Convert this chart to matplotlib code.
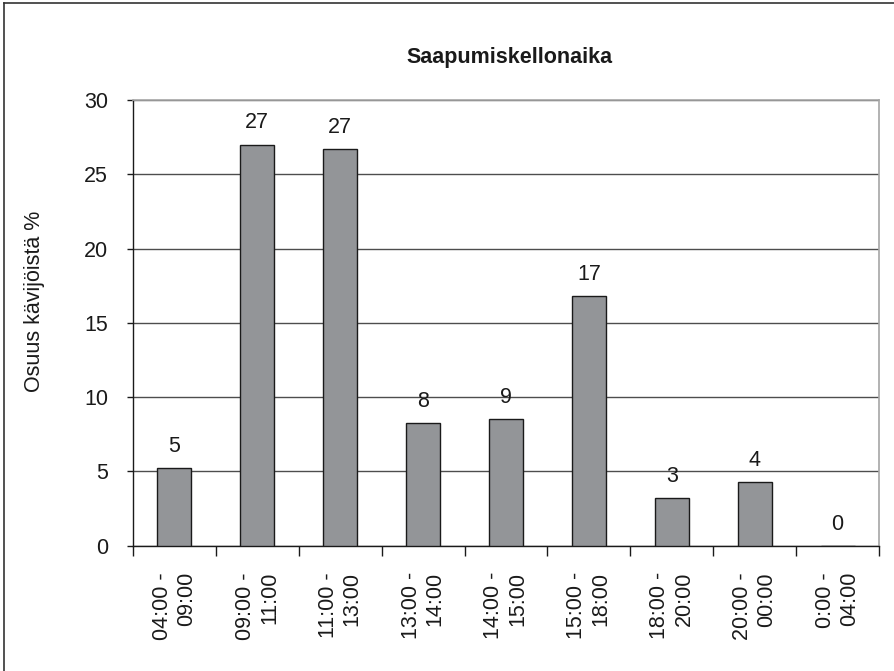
import numpy as np
import matplotlib.pyplot as plt
from matplotlib.lines import Line2D

plt.rcParams['font.family'] = ['Liberation Sans', 'DejaVu Sans']

# data
categories = ["04:00 -\n09:00", "09:00 -\n11:00", "11:00 -\n13:00",
              "13:00 -\n14:00", "14:00 -\n15:00", "15:00 -\n18:00",
              "18:00 -\n20:00", "20:00 -\n00:00", "0:00 -\n04:00"]
shares = [5.25, 27.0, 26.7, 8.25, 8.5, 16.8, 3.2, 4.3, 0.0]

fig = plt.figure(figsize=(8.94, 6.71), dpi=100)
ax = fig.add_axes([133/894, 1 - 545.7/671, 746/894, 445.7/671])

x = np.arange(len(categories))
bars = ax.bar(x, shares, width=0.41, color='#939598', edgecolor='#1a1a1a',
              linewidth=1.0, zorder=3)

for rect, v in zip(bars, shares):
    ax.annotate(str(int(v + 0.5)), (rect.get_x() + rect.get_width() / 2, v),
                xytext=(0, 8), textcoords='offset points',
                ha='center', va='bottom', fontsize=15.5, color='#1a1a1a')

ax.set_xlim(-0.5, len(categories) - 0.5)
ax.set_ylim(0, 30)
ax.set_yticks(np.arange(0, 31, 5))
ax.yaxis.grid(True, color='#4d4d4d', linewidth=1.0, zorder=0)

ax.set_xticks(x)
ax.set_xticklabels(categories, rotation=90, multialignment='right',
                   fontsize=15.5, color='#1a1a1a')
ax.tick_params(axis='x', which='major', length=0, pad=19)
ax.set_xticks(np.arange(-0.5, len(categories)), minor=True)
ax.tick_params(axis='x', which='minor', length=7.5, width=1.0,
               color='#1a1a1a', direction='out')
ax.tick_params(axis='y', length=4.5, width=1.0, color='#1a1a1a',
               pad=13.5, labelsize=15.5, labelcolor='#1a1a1a')

for side in ['left', 'bottom']:
    ax.spines[side].set_color('#1a1a1a')
    ax.spines[side].set_linewidth(1.0)
for side in ['top', 'right']:
    ax.spines[side].set_color('#a6a6a6')
    ax.spines[side].set_linewidth(1.2)

fig.text(509/894, 1 - 57/671, "Saapumiskellonaika", ha='center', va='center',
         fontsize=15.5, fontweight='bold', color='#1a1a1a')
fig.text(35/894, 1 - 301.5/671, "Osuus kävijöistä %", ha='center', va='center',
         rotation=90, fontsize=15.5, color='#1a1a1a')

# outer frame (only left and top visible)
fig.add_artist(Line2D([4/894, 4/894], [0, 1 - 3/671], transform=fig.transFigure,
                      color='#333333', linewidth=1.2))
fig.add_artist(Line2D([4/894, 1], [1 - 3/671, 1 - 3/671], transform=fig.transFigure,
                      color='#333333', linewidth=1.2))

fig.savefig('out.png', dpi=100)
